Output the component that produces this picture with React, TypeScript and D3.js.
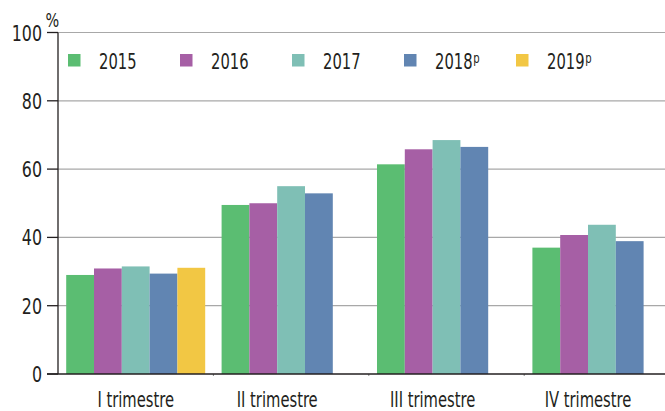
import React from "react";
import * as d3 from "d3";

const categories = ["I trimestre", "II trimestre", "III trimestre", "IV trimestre"];
const seriesNames = ["2015", "2016", "2017", "2018", "2019"];
const seriesSup = ["", "", "", "p", "p"];
const colors = ["#5bbd72", "#a65fa5", "#7fbfb5", "#6185b2", "#f2c744"];
const values2015 = [29.0, 49.5, 61.4, 37.0];
const values2016 = [30.9, 50.0, 65.8, 40.7];
const values2017 = [31.5, 55.0, 68.5, 43.7];
const values2018 = [29.4, 52.9, 66.5, 38.9];
const values2019 = [31.1, null, null, null];
const series = [values2015, values2016, values2017, values2018, values2019];
const yTicks = [0, 20, 40, 60, 80, 100];

const W = 665;
const H = 411;
const FONT = "'DejaVu Sans Condensed', 'Liberation Sans Narrow', sans-serif";
const SX = 0.8;

function T({ x, y, anchor = "start", size = 20.5, children }: any) {
  return (
    <text
      transform={`translate(${x},${y}) scale(${SX},1)`}
      textAnchor={anchor}
      fontSize={size}
      fill="#231f20"
    >
      {children}
    </text>
  );
}

export default function App() {
  const x0 = d3.scaleBand<string>().domain(categories).range([58, 679.6]).paddingInner(0.1055).paddingOuter(0.05275);
  const x1 = d3.scaleBand<string>().domain(seriesNames).range([0, x0.bandwidth()]);
  const y = d3.scaleLinear().domain([0, 100]).range([374, 32.5]);

  return (
    <svg width={W} height={H} style={{ position: "absolute", left: 0, top: 0, fontFamily: FONT }}>
      <rect width={W} height={H} fill="#fff" />
      {yTicks.filter((t) => t > 0).map((t) => (
        <line key={t} x1={58} x2={W} y1={y(t)} y2={y(t)} stroke="#a8a8a8" strokeWidth={1.2} />
      ))}
      {categories.map((c, ci) => {
        const present = series.map((s, si) => ({ v: s[ci], si })).filter((d) => d.v != null);
        const x0c = x0(c)!;
        const lastX = x0c + x1(seriesNames[present[present.length - 1].si])! + x1.bandwidth();
        const center = (x0c + lastX) / 2;
        return (
          <g key={c}>
            {present.map((d) => (
              <rect
                key={d.si}
                x={x0c + x1(seriesNames[d.si])!}
                y={y(d.v as number)}
                width={x1.bandwidth()}
                height={y(0) - y(d.v as number)}
                fill={colors[d.si]}
              />
            ))}
            <T x={center} y={406.5} anchor="middle" size={20.5}>{c}</T>
          </g>
        );
      })}
      {categories.slice(1).map((c) => (
        <line key={c} x1={x0(c)! - x0.step() * 0.05275} x2={x0(c)! - x0.step() * 0.05275} y1={374} y2={376} stroke="#888" />
      ))}
      <line x1={58} x2={58} y1={32.5} y2={374} stroke="#231f20" strokeWidth={1.3} />
      <line x1={47} x2={W} y1={374} y2={374} stroke="#231f20" strokeWidth={1.3} />
      {yTicks.map((t) => (
        <g key={t}>
          <line x1={47} x2={58} y1={y(t)} y2={y(t)} stroke="#231f20" strokeWidth={1.3} />
          <T x={42} y={y(t) + 8} anchor="end" size={22}>{t}</T>
        </g>
      ))}
      <T x={45.5} y={26.5} size={20}>%</T>
      {seriesNames.map((n, i) => {
        const lx = 68 + i * 112;
        return (
          <g key={n}>
            <rect x={lx} y={54} width={12.5} height={12.5} fill={colors[i]} />
            <T x={lx + 31} y={68.5} size={20.5}>
              {n}
              {seriesSup[i] && <tspan dx={1} dy={-6} fontSize={14}>{seriesSup[i]}</tspan>}
            </T>
          </g>
        );
      })}
    </svg>
  );
}
